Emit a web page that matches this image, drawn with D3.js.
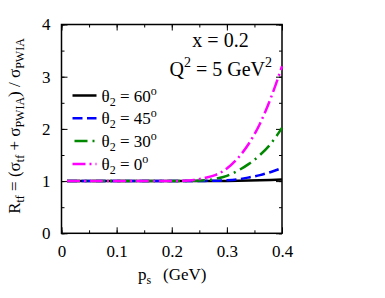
<!DOCTYPE html>
<html>
<head>
<meta charset="utf-8">
<script src="https://cdn.jsdelivr.net/npm/d3@7"></script>
<style>
  body { margin: 0; background: #fff; }
  svg, svg text { font-family: "Liberation Serif", "DejaVu Serif"; }
</style>
</head>
<body>
<svg id="svg1" width="385" height="298"></svg>
<script>
// momentum of spectator (GeV)
var ps      = [0.01, 0.05, 0.10, 0.15, 0.20, 0.22, 0.24, 0.26, 0.28, 0.30, 0.32, 0.34, 0.36, 0.38, 0.40];
var theta60 = [1, 1, 1, 1, 1, 1, 1, 1.001, 1.002, 1.004, 1.007, 1.011, 1.016, 1.022, 1.03];
var theta45 = [1, 1, 1, 1, 1, 1.001, 1.002, 1.004, 1.008, 1.015, 1.033, 1.07, 1.115, 1.175, 1.25];
var theta30 = [1, 1, 1, 1, 1, 1.002, 1.006, 1.015, 1.045, 1.10, 1.20, 1.33, 1.50, 1.72, 2.02];
var theta0  = [1, 1, 1, 1, 1, 1.005, 1.02, 1.06, 1.12, 1.24, 1.44, 1.72, 2.10, 2.60, 3.20];

var xTicks = [0, 0.1, 0.2, 0.3, 0.4];
var yTicks = [0, 1, 2, 3, 4];
var legendNames = ['60', '45', '30', '0'];

var marginLeft = 61.5, marginTop = 24.5;
var w = 220.5, h = 208.8;

var svg = d3.select('svg')
    .append('g')
    .attr('transform', 'translate(' + marginLeft + ',' + marginTop + ')');

var x = d3.scaleLinear().domain([0, 0.4]).range([0, w]);
var y = d3.scaleLinear().domain([0, 4]).range([h, 0]);

var series = [
    {vals: theta60, color: '#000000', dash: null, off: 0},
    {vals: theta45, color: '#0000ff', dash: '10,4.5', off: 0},
    {vals: theta30, color: '#008800', dash: '13,5,2,5', off: 23},
    {vals: theta0,  color: '#ff00ff', dash: '13,4,2,4', off: 0}
];

// minor ticks first
var minorX = d3.range(0, 0.401, 0.05);
var minorY = d3.range(0, 4.01, 0.5);
svg.append('g').attr('transform', 'translate(0,' + h + ')')
    .call(d3.axisBottom(x).tickValues(minorX).tickSize(-3).tickFormat(''));
svg.append('g')
    .call(d3.axisTop(x).tickValues(minorX).tickSize(-3).tickFormat(''));
svg.append('g')
    .call(d3.axisLeft(y).tickValues(minorY).tickSize(-3).tickFormat(''));
svg.append('g').attr('transform', 'translate(' + w + ',0)')
    .call(d3.axisRight(y).tickValues(minorY).tickSize(-3).tickFormat(''));

// major ticks
svg.append('g').attr('class', 'xax').attr('transform', 'translate(0,' + h + ')')
    .call(d3.axisBottom(x).tickValues(xTicks).tickSizeInner(-6).tickSizeOuter(0).tickPadding(12)
        .tickFormat(function(d){ return d === 0 ? '0' : d3.format('.1f')(d); }));
svg.append('g')
    .call(d3.axisTop(x).tickValues(xTicks).tickSizeInner(-6).tickSizeOuter(0).tickFormat(''));
svg.append('g').attr('class', 'yax')
    .call(d3.axisLeft(y).tickValues(yTicks).tickSizeInner(-6).tickSizeOuter(0).tickPadding(11)
        .tickFormat(d3.format('d')));
svg.append('g').attr('transform', 'translate(' + w + ',0)')
    .call(d3.axisRight(y).tickValues(yTicks).tickSizeInner(-6).tickSizeOuter(0).tickFormat(''));

svg.selectAll('.domain').remove();
svg.selectAll('g').attr('font-family', null);
svg.selectAll('.tick line').attr('stroke', '#000').attr('stroke-width', 1);
svg.selectAll('.xax text, .yax text')
    .attr('font-size', 17)
    .attr('fill', '#000');

svg.append('rect')
    .attr('width', w).attr('height', h)
    .attr('fill', 'none').attr('stroke', '#000').attr('stroke-width', 1.5);

var line = d3.line()
    .x(function(d, i){ return x(ps[i]); })
    .y(function(d){ return y(d); })
    .curve(d3.curveMonotoneX);

series.forEach(function(s){
    svg.append('path')
        .attr('d', line(s.vals))
        .attr('fill', 'none')
        .attr('stroke', s.color)
        .attr('stroke-width', 2.5)
        .attr('stroke-dasharray', s.dash);
});

// legend
series.forEach(function(s, i){
    var ly = 71 + i * 22.8;
    svg.append('line')
        .attr('x1', 11).attr('x2', 35)
        .attr('y1', ly).attr('y2', ly)
        .attr('stroke', s.color).attr('stroke-width', 2.5)
        .attr('stroke-dasharray', s.dash)
        .attr('stroke-dashoffset', s.off);
    var t = svg.append('text')
        .attr('x', 40).attr('y', ly + 6)
        .attr('font-size', 17).attr('fill', '#000');
    t.append('tspan').text('\u03b8');
    t.append('tspan').attr('font-size', 12).attr('dy', 4).text('2');
    t.append('tspan').attr('dy', -4).text(' = ' + legendNames[i]);
    t.append('tspan').attr('font-size', 12).attr('dy', -7).text('o');
});

// annotation
svg.append('text')
    .attr('x', 159).attr('y', 22)
    .attr('text-anchor', 'middle')
    .attr('font-size', 20).attr('fill', '#000')
    .text('x = 0.2');
var q = svg.append('text')
    .attr('x', 108).attr('y', 51)
    .attr('font-size', 20).attr('fill', '#000');
q.append('tspan').text('Q');
q.append('tspan').attr('font-size', 14).attr('dy', -9).text('2');
q.append('tspan').attr('dy', 9).text(' = 5 GeV');
q.append('tspan').attr('font-size', 14).attr('dy', -9).text('2');

// x label
var xl = d3.select('svg').append('text')
    .attr('x', 138).attr('y', 280)
    .attr('font-size', 17).attr('fill', '#000');
xl.append('tspan').text('p');
xl.append('tspan').attr('font-size', 12).attr('dy', 4).text('s');
xl.append('tspan').attr('dy', -4).attr('x', 163).text('(GeV)');

// y label
var yl = d3.select('svg').append('text')
    .attr('transform', 'translate(20,126) rotate(-90)')
    .attr('text-anchor', 'middle')
    .attr('font-size', 17).attr('fill', '#000');
yl.append('tspan').text('R');
yl.append('tspan').attr('font-size', 12).attr('dy', 4).text('tf');
yl.append('tspan').attr('dy', -4).text(' = (\u03c3');
yl.append('tspan').attr('font-size', 12).attr('dy', 4).text('tf');
yl.append('tspan').attr('dy', -4).text(' + \u03c3');
yl.append('tspan').attr('font-size', 12).attr('dy', 4).text('PWIA');
yl.append('tspan').attr('dy', -4).text(') / \u03c3');
yl.append('tspan').attr('font-size', 12).attr('dy', 4).text('PWIA');
</script>
</body>
</html>
